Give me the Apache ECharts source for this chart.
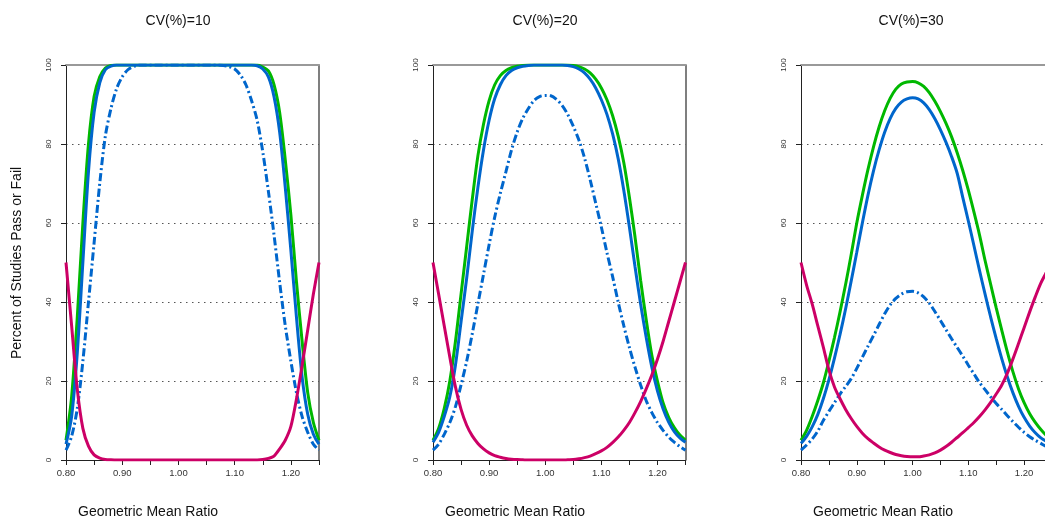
<!DOCTYPE html>
<html>
<head>
<meta charset="utf-8">
<script src="https://cdn.jsdelivr.net/npm/echarts@6/dist/echarts.min.js"></script>
<style>
  html, body { margin: 0; padding: 0; background: #fff; }
  #chart { width: 1045px; height: 523px; }
</style>
</head>
<body>
<div id="chart"></div>
<script>
// geometric mean ratio grid
var ratios = [0.80,0.81,0.82,0.83,0.84,0.85,0.86,0.87,0.88,0.89,
  0.90,0.91,0.92,0.93,0.94,0.95,0.96,0.97,0.98,0.99,
  1.00,1.01,1.02,1.03,1.04,1.05,1.06,1.07,1.08,1.09,
  1.10,1.11,1.12,1.13,1.14,1.15,1.16,1.17,1.18,1.19,
  1.20,1.21,1.22,1.23,1.24,1.25]

var panelTitles = ['CV(%)=10', 'CV(%)=20', 'CV(%)=30']
var xTickLabels = ['0.80', '0.90', '1.00', '1.10', '1.20']

// CV 10
var cv10Green = [5,16,36,60,80,92,97,99.2,99.9,100,
  100,100,100,100,100,100,100,100,100,100,
  100,100,100,100,100,100,100,100,100,100,
  100,100,100,100,100,99.5,98.5,95,88,76,
  62,45,30,17,9.5,5]
var cv10Blue = [4,11,27,50,73,88,95.5,98.8,99.7,100,
  100,100,100,100,100,100,100,100,100,100,
  100,100,100,100,100,100,100,100,100,100,
  100,100,100,100,99.8,99,97,92,83,69,
  53,36,21,11.5,6.5,4]
var cv10Dash = [2.5,6,13,25,40,55,70,82,89,94,
  97,98.8,99.6,100,100,100,100,100,100,100,
  100,100,100,100,100,100,100,100,99.9,99.6,
  99,97.5,95,91,86,78,68,57,45,34,
  25,17,11,7,4,2.5]
var cv10Red = [50,34,18,8,3.5,1.3,0.5,0.15,0.05,0,
  0,0,0,0,0,0,0,0,0,0,
  0,0,0,0,0,0,0,0,0,0,
  0,0,0,0,0,0.1,0.4,1,2.8,5,
  8.5,15.5,24,33,42,50]

// CV 20
var cv20Green = [5,8,13,20,30,42,54,66,77,85,
  91,95,97.3,98.6,99.3,99.7,99.9,100,100,100,
  100,100,100,100,100,99.9,99.6,99,98,96.4,
  94.2,91.2,87.2,82,75.3,66.5,56.5,45.5,35.5,26.5,
  20,14.5,10.8,8.2,6.3,5]
var cv20Blue = [4.5,7,11,16,24,35,46,58,69,78.5,
  86,91.5,95,97.3,98.6,99.3,99.7,99.9,100,100,
  100,100,100,100,99.9,99.6,99,98,96.4,94.2,
  91.2,87.5,82.6,76.3,68.3,59,49,39.5,31,23.5,
  17.5,13,9.6,7.2,5.6,4.5]
var cv20Dash = [2.5,4,6.5,9.5,13.5,19,25,32,39.5,47,
  54.5,61.5,67.5,73,78.5,83,86.5,89,91,92,
  92.3,92.2,91.3,89.8,87.5,84.5,81,76.5,71,65,
  59,52.5,46.5,40,34,28.5,23.5,19,15,12,
  9.5,7.5,5.8,4.5,3.4,2.5]
var cv20Red = [50,42,34,26,18.5,12.8,8.8,6.1,4.2,2.8,
  1.8,1.1,0.7,0.4,0.2,0.1,0.05,0,0,0,
  0,0,0,0,0.05,0.1,0.3,0.6,1,1.6,
  2.3,3.2,4.4,5.8,7.5,9.5,12,14.8,18,21.5,
  25.5,30,35,40,45,50]

// CV 30
var cv30Green = [5,7.5,11,15,19.5,25,31,37.5,44.5,52,
  60,67,73.5,79.3,84.3,88.4,91.6,93.9,95.2,95.7,
  95.8,95.5,94.6,93,90.8,88.2,85.2,81.8,77.8,73.3,
  68.3,62.8,57,50.5,44.5,38.5,32.8,27.3,22.3,18,
  14.5,11.7,9.5,7.7,6.2,5]
var cv30Blue = [4.2,6,8.4,11.5,15.5,20.3,25.8,31.8,38.3,45.3,
  52.6,60,67,73.2,78.5,83,86.5,89,90.6,91.4,
  91.7,91.4,90.4,88.7,86.4,83.6,80.4,76.8,72.6,66.5,
  60.5,54.3,48,42,36.2,30.7,25.6,21,17,13.6,
  10.8,8.6,6.9,5.6,4.7,4]
var cv30Dash = [2.5,3.8,5.3,7.3,10,12.3,14.5,16.7,18.6,20.6,
  23.2,26,28.8,31.5,34.3,37,39.3,40.9,42,42.6,
  42.7,42.3,41.3,39.7,37.6,35.3,33,30.7,28.5,26.3,
  24,21.8,19.6,17.8,16,14.3,12.8,11.2,9.7,8.3,
  7,5.9,5,4.2,3.4,2.8]
var cv30Red = [50,44.3,39.5,34,28.6,22.8,18.5,15.5,12.8,10.5,
  8.5,6.8,5.4,4.3,3.3,2.5,1.9,1.4,1.1,0.9,
  0.8,0.8,1,1.3,1.8,2.5,3.4,4.5,5.7,6.9,
  8.2,9.5,11,12.7,14.6,16.7,19,22,25.6,29.5,
  33.5,37.5,41.3,44.8,47.5,50]

var panelSeries = [
  [cv10Green, cv10Blue, cv10Dash, cv10Red],
  [cv20Green, cv20Blue, cv20Dash, cv20Red],
  [cv30Green, cv30Blue, cv30Dash, cv30Red]
]

var font = "'Liberation Sans', Arial, sans-serif"
var gridLefts = [66, 433, 801]
var gridWidths = [253, 252.5, 251]
var titleCenters = [173, 540, 906]
var xNameLefts = [78, 445, 813]

var lineStyles = [
  { color: '#00B800', type: 'solid' },
  { color: '#0066CC', type: 'solid' },
  { color: '#0066CC', type: [8, 3, 2, 3] },
  { color: '#CC0066', type: 'solid' }
]

var grids = [], xAxes = [], yAxes = [], series = [], titles = [], graphics = []

gridLefts.forEach(function(left, i) {
  grids.push({ left: left, top: 65, width: gridWidths[i], height: 395,
    containLabel: false, outerBoundsMode: 'none' })

  // bottom axis
  xAxes.push({
    type: 'value', gridIndex: i, min: 0.8, max: 1.25, interval: 0.05,
    axisLine: { onZero: false, lineStyle: { color: '#222', width: 1 } },
    axisTick: { length: 5, lineStyle: { color: '#222' } },
    axisLabel: {
      fontSize: 9.5, color: '#333', fontFamily: font, margin: 8,
      formatter: function(v) {
        var s = v.toFixed(2)
        return xTickLabels.indexOf(s) >= 0 ? s : ''
      }
    },
    splitLine: { show: false }
  })
  // top border
  xAxes.push({
    type: 'value', gridIndex: i, position: 'top', min: 0.8, max: 1.25,
    axisLine: { onZero: false, lineStyle: { color: '#999', width: 2 } },
    axisTick: { show: false }, axisLabel: { show: false }, splitLine: { show: false }
  })

  yAxes.push({
    type: 'value', gridIndex: i, min: 0, max: 100, interval: 20,
    axisLine: { show: true, onZero: false, lineStyle: { color: '#222', width: 1 } },
    axisTick: { show: true, length: 5, lineStyle: { color: '#222' } },
    axisLabel: { rotate: 90, fontSize: 8, color: '#333', fontFamily: font, margin: 13 },
    splitLine: { show: true, lineStyle: { color: '#555', type: [1.5, 4.5], width: 1 } }
  })
  // right border
  yAxes.push({
    type: 'value', gridIndex: i, position: 'right', min: 0, max: 100,
    axisLine: { show: true, onZero: false, lineStyle: { color: '#555', width: 1.5 } },
    axisTick: { show: false }, axisLabel: { show: false }, splitLine: { show: false }
  })

  panelSeries[i].forEach(function(vals, k) {
    series.push({
      type: 'line',
      xAxisIndex: i * 2,
      yAxisIndex: i * 2,
      data: ratios.map(function(r, j) { return [r, vals[j]] }),
      showSymbol: false,
      smooth: 0.3,
      lineStyle: { width: 3, color: lineStyles[k].color, type: lineStyles[k].type },
      animation: false
    })
  })

  titles.push({
    text: panelTitles[i], left: titleCenters[i], top: 9, textAlign: 'center',
    textStyle: { fontSize: 14, fontWeight: 'normal', color: '#111', fontFamily: font }
  })

  graphics.push({
    type: 'text', left: xNameLefts[i], top: 505,
    style: { text: 'Geometric Mean Ratio', fontSize: 14, fill: '#111', fontFamily: font }
  })
})

graphics.push({
  type: 'text', x: 17, y: 263, rotation: Math.PI / 2,
  style: {
    text: 'Percent of Studies Pass or Fail', fontSize: 14, fill: '#111',
    fontFamily: font, align: 'center', verticalAlign: 'middle'
  }
})

var chart = echarts.init(document.getElementById('chart'))
chart.setOption({
  backgroundColor: '#fff',
  animation: false,
  title: titles,
  grid: grids,
  xAxis: xAxes,
  yAxis: yAxes,
  series: series,
  graphic: graphics
})
</script>
</body>
</html>
